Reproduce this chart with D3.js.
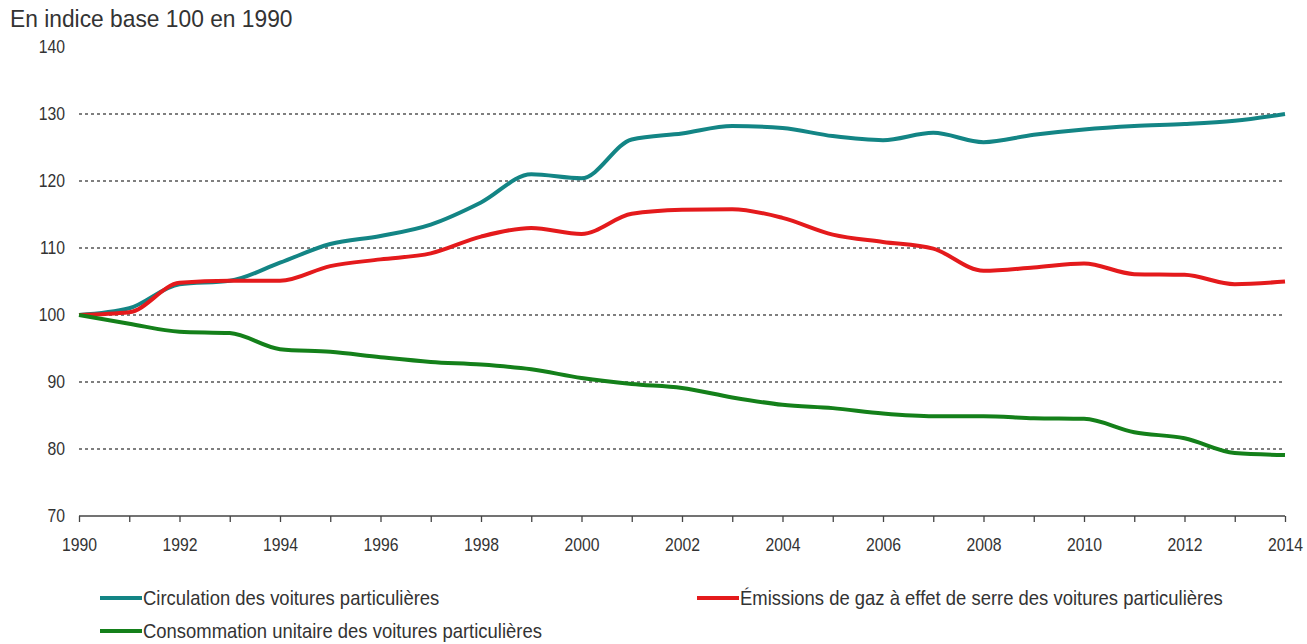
<!DOCTYPE html>
<html>
<head>
<meta charset="utf-8">
<script src="https://cdn.jsdelivr.net/npm/d3@7"></script>
<style>
  body { margin: 0; background: #fff; }
  svg text { font-family: "Liberation Sans", Arial, sans-serif; fill: #333; }
</style>
</head>
<body>
<svg id="chart" width="1307" height="644"></svg>
<script>
// ── Data ─────────────────────────────────────────────────────────
const years = d3.range(1990, 2015);
const circulation = [100, 101, 104.6, 105.1, 107.8, 110.6, 111.8, 113.5, 116.8, 121, 120.4,
  126.2, 127.1, 128.2, 127.9, 126.7, 126.1, 127.2, 125.8, 126.9, 127.7, 128.2, 128.5, 129, 130];
const emissions = [100, 100.4, 104.8, 105.1, 105.1, 107.3, 108.3, 109.2, 111.7, 113, 112.1,
  115.1, 115.7, 115.8, 114.5, 112, 110.9, 109.9, 106.6, 107.1, 107.7, 106.1, 106, 104.6, 105];
const consommation = [100, 98.7, 97.5, 97.3, 94.9, 94.5, 93.7, 93, 92.6, 91.9, 90.6,
  89.7, 89.1, 87.7, 86.6, 86.1, 85.3, 84.9, 84.9, 84.6, 84.5, 82.5, 81.6, 79.4, 79.1];
const yTicks = [70, 80, 90, 100, 110, 120, 130, 140];
const gridValues = [80, 90, 100, 110, 120, 130];

const series = [
  { name: "Circulation des voitures particulières", values: circulation, color: "#138585" },
  { name: "Émissions de gaz à effet de serre des voitures particulières", values: emissions, color: "#e41a1c" },
  { name: "Consommation unitaire des voitures particulières", values: consommation, color: "#14801a" }
];

// ── Layout ───────────────────────────────────────────────────────
const svg = d3.select('#chart');
const x = d3.scaleLinear().domain([1990, 2014]).range([79, 1285]);
const y = d3.scaleLinear().domain([70, 140]).range([516, 47]);

// narrow-looking text: scale horizontally a bit
function narrowText(sel, px, py, size, sx) {
  return sel.append('text')
    .attr('transform', `translate(${px},${py}) scale(${sx},1)`)
    .attr('font-size', size);
}

narrowText(svg, 10, 27, 24, 0.95).text('En indice base 100 en 1990');

// Gridlines
svg.append('g').selectAll('line').data(gridValues).join('line')
  .attr('x1', x(1990)).attr('x2', x(2014))
  .attr('y1', d => y(d)).attr('y2', d => y(d))
  .attr('stroke', '#555').attr('stroke-width', 1.4).attr('stroke-dasharray', '3,3');

// Y axis labels
svg.append('g').selectAll('text').data(yTicks).join('text')
  .attr('transform', d => `translate(65,${y(d)}) scale(0.9,1)`)
  .attr('dy', '0.35em')
  .attr('text-anchor', 'end').attr('font-size', 17.5)
  .text(d => d);

// X axis
const xAxis = d3.axisBottom(x)
  .tickValues(years)
  .tickSize(6)
  .tickFormat(d => d % 2 === 0 ? d : '');
const gx = svg.append('g').attr('transform', `translate(0,${y(70)})`).call(xAxis);
gx.select('.domain').attr('stroke', '#444').attr('stroke-width', 1.3).attr('d', `M${x(1990)},0H${x(2014)}`);
gx.selectAll('.tick line').attr('stroke', '#444').attr('stroke-width', 1.3);
gx.selectAll('.tick text').attr('font-size', 17.5).attr('y', 0).attr('dy', '0')
  .attr('transform', 'translate(0,35) scale(0.9,1)')
  .style('font-family', '"Liberation Sans", Arial, sans-serif').attr('fill', '#333');

// Lines
const line = d3.line()
  .x((d, i) => x(years[i]))
  .y(d => y(d))
  .curve(d3.curveMonotoneX);

svg.append('g').selectAll('path').data(series).join('path')
  .attr('fill', 'none')
  .attr('stroke', d => d.color)
  .attr('stroke-width', 4)
  .attr('stroke-linejoin', 'round')
  .attr('d', d => line(d.values));

// Legend
const legendPos = [
  { x: 100, y: 598 },
  { x: 697, y: 598 },
  { x: 100, y: 631 }
];
const lg = svg.append('g').selectAll('g').data(series).join('g')
  .attr('transform', (d, i) => `translate(${legendPos[i].x},${legendPos[i].y})`);
lg.append('line').attr('x1', 0).attr('x2', 42).attr('y1', 0).attr('y2', 0)
  .attr('stroke', d => d.color).attr('stroke-width', 4);
lg.append('text').attr('transform', 'translate(43,0) scale(0.9,1)')
  .attr('dy', '0.35em').attr('font-size', 20.5)
  .text(d => d.name);
</script>
</body>
</html>
